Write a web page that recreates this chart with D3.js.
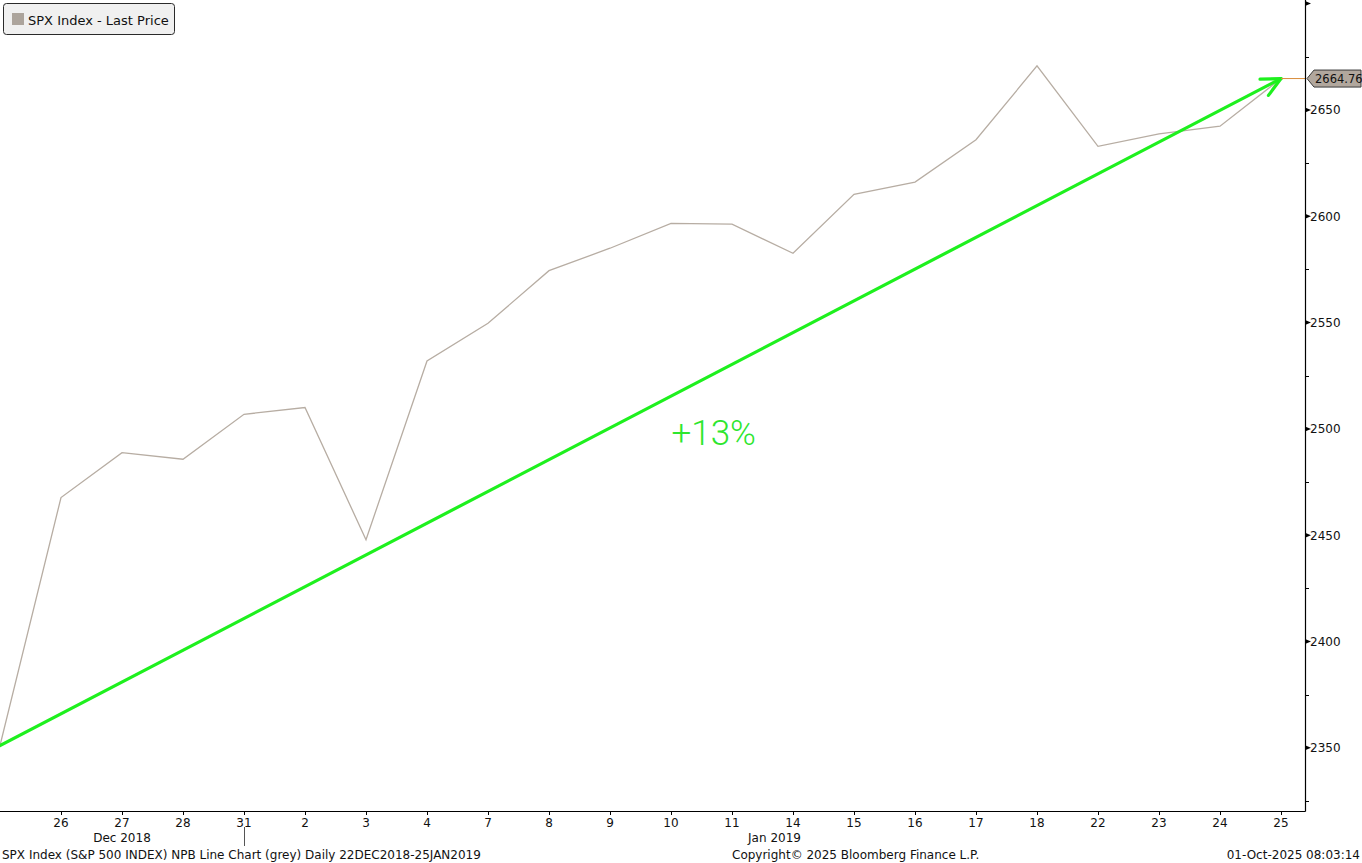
<!DOCTYPE html>
<html><head><meta charset="utf-8">
<script src="https://cdn.jsdelivr.net/npm/d3@7"></script>
<style>
html,body{margin:0;padding:0;background:#fff;}
svg{display:block;}
text{font-family:"DejaVu Sans",sans-serif;}
</style></head>
<body><svg id="chart" width="1362" height="863"></svg>
<script>
// ---- data ----
const dates = ["2018-12-24","2018-12-26","2018-12-27","2018-12-28","2018-12-31","2019-01-02","2019-01-03","2019-01-04","2019-01-07","2019-01-08","2019-01-09","2019-01-10","2019-01-11","2019-01-14","2019-01-15","2019-01-16","2019-01-17","2019-01-18","2019-01-22","2019-01-23","2019-01-24","2019-01-25"];
const prices = [2351.10,2467.70,2488.83,2485.74,2506.85,2510.03,2447.89,2531.94,2549.69,2574.41,2584.96,2596.64,2596.26,2582.61,2610.30,2616.10,2635.96,2670.71,2632.90,2638.70,2642.33,2664.76];
const dayLabels = ["","26","27","28","31","2","3","4","7","8","9","10","11","14","15","16","17","18","22","23","24","25"];
const monthLabels = ["Dec 2018","Jan 2019"];
const yMajorTicks = [2350,2400,2450,2500,2550,2600,2650,2700];
const yTickLabels = ["2350","2400","2450","2500","2550","2600","2650",""];
const yMinorTicks = [2325,2375,2425,2475,2525,2575,2625,2675];
const yDomain = [2320.3, 2701.7];
const legendLabel = "SPX Index - Last Price";
const lastLabel = "2664.76";
const annotationText = "+13%";
const footerLeft = "SPX Index (S&P 500 INDEX) NPB Line Chart (grey) Daily 22DEC2018-25JAN2019";
const footerMid = "Copyright\u00A9 2025 Bloomberg Finance L.P.";
const footerRight = "01-Oct-2025 08:03:14";

// ---- layout ----
const W = 1362, H = 863;
const plot = {left:0, right:1305, top:0, bottom:811};
const svg = d3.select("#chart");
const idx = d3.range(dates.length);
const x = d3.scaleLinear().domain([0, dates.length-1]).range([0, 1281]);
const y = d3.scaleLinear().domain(yDomain).range([plot.bottom, plot.top]);

const lineColor = "#b7ada3";
const green = "#1ef01e";
const fs = "12px";

// price line
svg.append("path")
  .datum(idx)
  .attr("fill","none").attr("stroke",lineColor).attr("stroke-width",1.3)
  .attr("d", d3.line().x(i=>x(i)).y(i=>y(prices[i])));

// green arrow from first to last value
const x0 = x(0), y0 = y(prices[0]);
const x1 = x(dates.length-1), y1 = y(prices[prices.length-1]);
svg.append("line").attr("x1",x0).attr("y1",y0).attr("x2",x1).attr("y2",y1)
  .attr("stroke",green).attr("stroke-width",3.2).attr("stroke-linecap","round");
const ang = Math.atan2(y1-y0, x1-x0);
const hl = 21, ha = 0.45;
const head = [
  [x1 - hl*Math.cos(ang-ha), y1 - hl*Math.sin(ang-ha)],
  [x1, y1],
  [x1 - hl*Math.cos(ang+ha), y1 - hl*Math.sin(ang+ha)]
];
svg.append("path").attr("d", d3.line()(head)).attr("fill","none")
  .attr("stroke",green).attr("stroke-width",3.2).attr("stroke-linecap","round").attr("stroke-linejoin","round");

// annotation
svg.append("text").attr("x", x(11.7)).attr("y", y(2492.5))
  .attr("text-anchor","middle").attr("fill","#2ee62e")
  .style("font-family","Roboto, 'Liberation Sans', sans-serif").style("font-weight","300")
  .style("font-size","35px").text(annotationText);

// orange last-price line
svg.append("line").attr("x1",x1).attr("x2",plot.right).attr("y1",y1).attr("y2",y1)
  .attr("stroke","#d98c3a").attr("stroke-width",1);

// axes lines
svg.append("line").attr("x1",plot.right+0.5).attr("x2",plot.right+0.5).attr("y1",0).attr("y2",plot.bottom+0.5)
  .attr("stroke","#000").attr("stroke-width",1.2);
svg.append("line").attr("x1",0).attr("x2",plot.right+0.5).attr("y1",plot.bottom+0.5).attr("y2",plot.bottom+0.5)
  .attr("stroke","#000").attr("stroke-width",1.2);

// right y axis
const ya = svg.append("g");
yMajorTicks.forEach((v,k)=>{
  const yy = y(v);
  ya.append("path").attr("d",`M${plot.right},${yy-2.5} L${plot.right+6},${yy} L${plot.right},${yy+2.5} Z`).attr("fill","#000");
  if(yTickLabels[k]) ya.append("text").attr("x",plot.right+5).attr("y",yy).attr("dy","0.36em")
    .attr("font-size",fs).attr("fill","#111").text(yTickLabels[k]);
});
yMinorTicks.forEach(v=>{
  const yy = Math.round(y(v))+0.5;
  ya.append("line").attr("x1",plot.right).attr("x2",plot.right+4).attr("y1",yy).attr("y2",yy).attr("stroke","#000");
});

// last price label
const ly = y1;
const lx = plot.right+2;
svg.append("path")
  .attr("d",`M${lx},${ly} L${lx+7},${ly-8.5} L${W-1},${ly-8.5} L${W-1},${ly+8.5} L${lx+7},${ly+8.5} Z`)
  .attr("fill","#b1a79d").attr("stroke","#3a3a3a").attr("stroke-width",1);
svg.append("text").attr("x",lx+8).attr("y",ly).attr("dy","0.36em")
  .attr("font-size","11.5px").attr("fill","#111").text(lastLabel);

// x axis ticks + labels
const xa = svg.append("g");
idx.forEach(i=>{
  if(!dayLabels[i]) return;
  const xx = Math.round(x(i))+0.5;
  xa.append("line").attr("x1",xx).attr("x2",xx).attr("y1",plot.bottom).attr("y2",plot.bottom+4).attr("stroke","#000");
  xa.append("text").attr("x",x(i)).attr("y",827).attr("text-anchor","middle")
    .attr("font-size",fs).attr("fill","#111").text(dayLabels[i]);
});
const sepX = Math.round(x(4))+0.5;
xa.append("line").attr("x1",sepX).attr("x2",sepX).attr("y1",827).attr("y2",846).attr("stroke","#555");
xa.append("text").attr("x",(0+x(4))/2).attr("y",842).attr("text-anchor","middle")
  .attr("font-size",fs).attr("fill","#111").text(monthLabels[0]);
xa.append("text").attr("x",(x(4)+plot.right)/2).attr("y",842).attr("text-anchor","middle")
  .attr("font-size",fs).attr("fill","#111").text(monthLabels[1]);

// legend
const lg = svg.append("g");
lg.append("rect").attr("x",3.5).attr("y",3.5).attr("width",171).attr("height",31).attr("rx",3)
  .attr("fill","#f0f0f0").attr("stroke","#2a2a2a").attr("stroke-width",1);
lg.append("rect").attr("x",12).attr("y",13).attr("width",12).attr("height",12).attr("fill","#aca49c");
lg.append("text").attr("x",28).attr("y",24.5).attr("font-size","13px").attr("fill","#111").text(legendLabel);

// footer
svg.append("text").attr("x",2).attr("y",859).attr("font-size",fs).attr("fill","#111").text(footerLeft);
svg.append("text").attr("x",732).attr("y",859).attr("font-size",fs).attr("fill","#111").text(footerMid);
svg.append("text").attr("x",W-2).attr("y",859).attr("text-anchor","end").attr("font-size",fs).attr("fill","#111").text(footerRight);
</script></body></html>
